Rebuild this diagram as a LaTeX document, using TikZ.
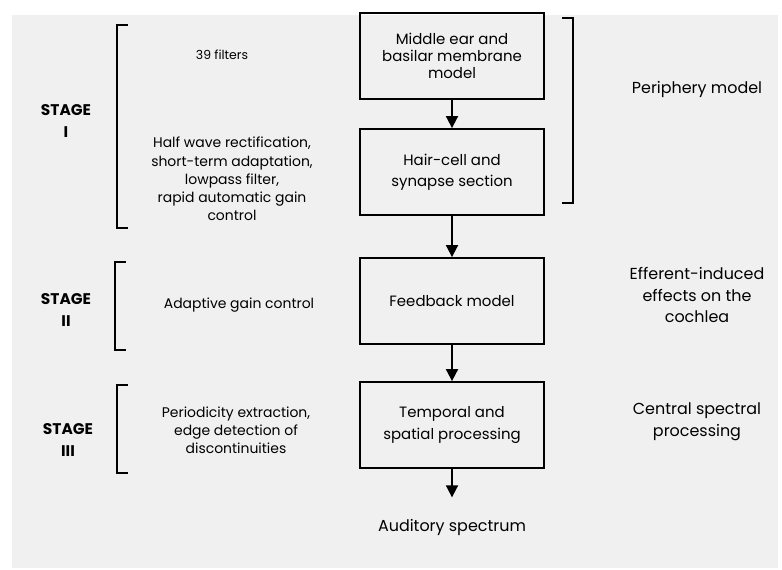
\documentclass[tikz,border=0pt]{standalone}
\usepackage{fontspec}
\setmainfont{Poppins}
\usetikzlibrary{arrows.meta}
\def\sh{edge from parent[shorten >=18bp]}

\begin{document}
\begin{tikzpicture}[x=1bp,y=-1bp,every node/.style={align=center,font=\fontsize{16}{22}\selectfont},
level 1/.style={level distance=116bp},level 2/.style={level distance=129bp},
level 3/.style={level distance=124bp},level 4/.style={level distance=102bp},
block/.style={draw,line width=1.8bp,minimum width=184bp,minimum height=86bp,font=\fontsize{15}{21.5}\selectfont},
edge from parent/.style={draw,line width=1.8bp,-{Triangle[length=12bp,width=12bp]}},
note/.style={font=\fontsize{14}{18.3}\selectfont},
stage/.style={font=\bfseries\fontsize{15.5}{22}\selectfont},
brace/.style={line width=2.2bp}
]
\useasboundingbox (0,0) rectangle (782,570);
\fill[black!6] (12,15) rectangle (778,568);

\node[block,font=\fontsize{15}{17}\selectfont] (mid) at (452,56) {Middle ear and \\ basilar membrane \\ model}
child { node[block] (hair) {Hair-cell and \\ synapse section}
child { node[block] (feed) {Feedback model}
child { node[block] (temp) {Temporal and \\ spatial processing}
child { node (spec) {Auditory spectrum} \sh}}}} % <- End chain
;

% right side
\draw[brace] (562,18) -- (573,18) -- (573,203) -- (562,203);
\node (peri) at (697,90) {Periphery model};
\node (effer) at (697,295) {Efferent-induced \\ effects on the \\ cochlea};
\node (centr) at (697,422) {Central spectral \\ processing};

% left side
\draw[brace] (128,25) -- (117,25) -- (117,228) -- (128,228);
\draw[brace] (126,262) -- (115,262) -- (115,350) -- (126,350);
\draw[brace] (128,385) -- (117,385) -- (117,473) -- (128,473);
\node[stage] (st1) at (66,121) {STAGE \\ I};
\node[stage] (st2) at (66,310) {STAGE \\ II};
\node[stage] (st3) at (68,440) {STAGE \\ III};
\node[note,font=\fontsize{12.5}{18}\selectfont] (filt) at (222,55) {39 filters};
\node[note] (rect) at (232,179) {Half wave rectification, \\ short-term adaptation, \\ lowpass filter, \\ rapid automatic gain \\ control};
\node[note] (agc) at (239,305) {Adaptive gain control};
\node[note] (peri2) at (236,430) {Periodicity extraction, \\ edge detection of \\ discontinuities};
\end{tikzpicture}
\end{document}
